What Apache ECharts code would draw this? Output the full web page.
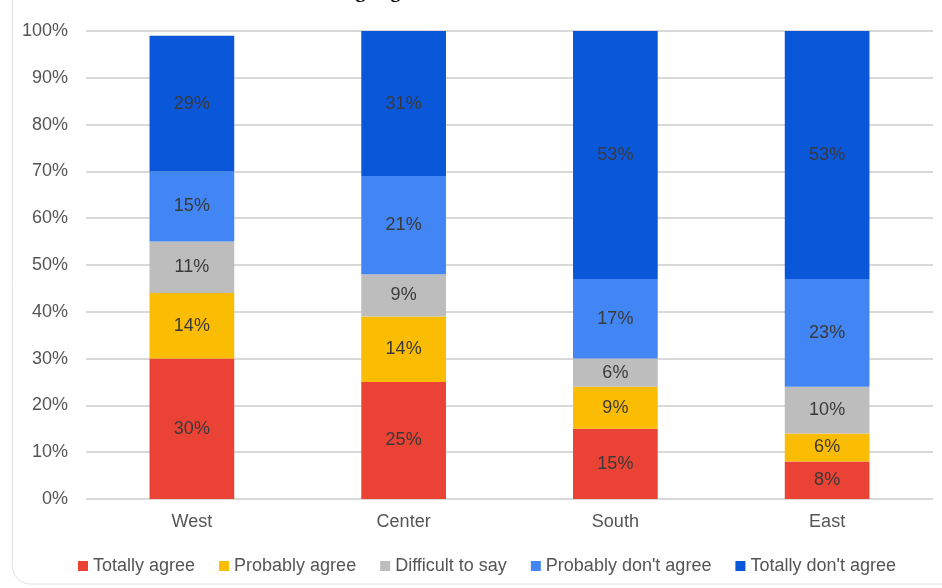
<!DOCTYPE html>
<html>
<head>
<meta charset="utf-8">
<script src="https://cdn.jsdelivr.net/npm/echarts@6/dist/echarts.min.js"></script>
<style>
  html, body { margin: 0; padding: 0; background: #fff; }
  #chart { width: 942px; height: 588px; }
</style>
</head>
<body>
<div id="chart"></div>
<script>
// 数据
const regions = ['West', 'Center', 'South', 'East'];
const seriesNames = ['Totally agree', 'Probably agree', 'Difficult to say', "Probably don't agree", "Totally don't agree"];
const totallyAgree = [30, 25, 15, 8];
const probablyAgree = [14, 14, 9, 6];
const difficultToSay = [11, 9, 6, 10];
const probablyDont = [15, 21, 17, 23];
const totallyDont = [29, 31, 53, 53];
const colors = ['#EA4335', '#FBBC04', '#BDBDBD', '#4285F4', '#0B57D9'];

const chart = echarts.init(document.getElementById('chart'));

const values = [totallyAgree, probablyAgree, difficultToSay, probablyDont, totallyDont];
const series = seriesNames.map((name, i) => ({
  name: name,
  type: 'bar',
  stack: 'total',
  barWidth: '40%',
  data: values[i],
  itemStyle: { color: colors[i] },
  label: {
    show: true,
    position: 'inside',
    formatter: '{c}%',
    color: '#3a3a3a',
    fontSize: 18,
    fontFamily: 'Liberation Sans, Arial, sans-serif'
  }
}));

const option = {
  animation: false,
  color: colors,
  title: {
    text: 'the following degrees.',
    left: 250,
    top: -23,
    textStyle: { fontFamily: 'Liberation Serif', fontWeight: 'bold', fontSize: 20, color: '#000' }
  },
  graphic: [{
    type: 'rect',
    shape: { x: 12.5, y: -30, width: 960, height: 614, r: 18 },
    style: { fill: 'none', stroke: '#e2e2e2', lineWidth: 1 },
    silent: true,
    z: -1
  }],
  grid: { left: 86, right: 9, top: 31, bottom: 89, containLabel: false },
  legend: {
    left: 73,
    top: 552,
    itemWidth: 10,
    itemHeight: 10,
    itemGap: 24,
    icon: 'rect',
    textStyle: { color: '#555', fontSize: 18, fontFamily: 'Liberation Sans, Arial, sans-serif' },
    data: seriesNames
  },
  xAxis: {
    type: 'category',
    data: regions,
    axisLine: { show: false },
    axisTick: { show: false },
    axisLabel: { color: '#555', fontSize: 18, margin: 14, fontFamily: 'Liberation Sans, Arial, sans-serif' }
  },
  yAxis: {
    type: 'value',
    min: 0,
    max: 100,
    interval: 10,
    axisLabel: { formatter: '{value}%', color: '#555', fontSize: 18, margin: 18, fontFamily: 'Liberation Sans, Arial, sans-serif' },
    splitLine: { lineStyle: { color: '#d9d9d9', width: 2 } },
    axisLine: { show: false },
    axisTick: { show: false }
  },
  series: series
};

chart.setOption(option);
</script>
</body>
</html>
